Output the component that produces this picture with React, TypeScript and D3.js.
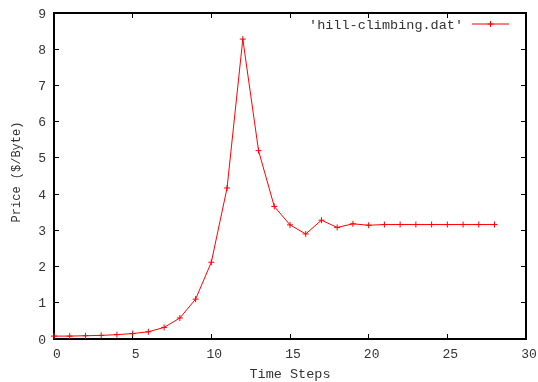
import React, { useRef, useEffect } from 'react';
import * as d3 from 'd3';

// Time step index and price values
const steps = [0, 1, 2, 3, 4, 5, 6, 7, 8, 9, 10, 11, 12, 13, 14, 15, 16, 17, 18, 19, 20, 21, 22, 23, 24, 25, 26, 27, 28];
const prices = [0.08, 0.08, 0.09, 0.1, 0.12, 0.15, 0.2, 0.32, 0.58, 1.1, 2.12, 4.17, 8.28, 5.2, 3.66, 3.15, 2.9, 3.28, 3.08, 3.18, 3.14, 3.16, 3.16, 3.16, 3.16, 3.16, 3.16, 3.16, 3.16];
const xTicks = [0, 5, 10, 15, 20, 25, 30];
const yTicks = [0, 1, 2, 3, 4, 5, 6, 7, 8, 9];
const seriesName = "'hill-climbing.dat'";

const FONT = '"Liberation Mono", "DejaVu Sans Mono", monospace';
const TXT = '#333';

function Chart() {
  const svgRef = useRef<SVGSVGElement>(null);

  useEffect(() => {
    const width = 538;
    const height = 382;
    const margin = { top: 13, right: 12, bottom: 43, left: 54 };
    const innerWidth = width - margin.left - margin.right;
    const innerHeight = height - margin.top - margin.bottom;

    const svg = d3.select(svgRef.current);
    svg.selectAll('*').remove();
    svg.attr('width', width).attr('height', height);

    const g = svg.append('g').attr('transform', `translate(${margin.left},${margin.top})`);

    const x = d3.scaleLinear().domain([0, 30]).range([0, innerWidth]);
    const y = d3.scaleLinear().domain([0, 9]).range([innerHeight, 0]);

    const tick = 5;

    // ticks (inside, mirrored like gnuplot)
    xTicks.forEach(t => {
      g.append('line').attr('x1', x(t)).attr('x2', x(t)).attr('y1', innerHeight).attr('y2', innerHeight - tick)
        .attr('stroke', '#000').attr('stroke-width', 1).attr('shape-rendering', 'crispEdges');
      g.append('line').attr('x1', x(t)).attr('x2', x(t)).attr('y1', 0).attr('y2', tick)
        .attr('stroke', '#000').attr('stroke-width', 1).attr('shape-rendering', 'crispEdges');
      g.append('text').attr('x', x(t) + 3).attr('y', innerHeight + 19)
        .attr('text-anchor', 'middle').attr('font-family', FONT).attr('font-size', 13).attr('fill', TXT)
        .text(t);
    });
    yTicks.forEach(t => {
      g.append('line').attr('x1', 0).attr('x2', tick).attr('y1', y(t)).attr('y2', y(t))
        .attr('stroke', '#000').attr('stroke-width', 1).attr('shape-rendering', 'crispEdges');
      g.append('line').attr('x1', innerWidth).attr('x2', innerWidth - tick).attr('y1', y(t)).attr('y2', y(t))
        .attr('stroke', '#000').attr('stroke-width', 1).attr('shape-rendering', 'crispEdges');
      g.append('text').attr('x', -8).attr('y', y(t)).attr('dy', '0.35em')
        .attr('text-anchor', 'end').attr('font-family', FONT).attr('font-size', 13).attr('fill', TXT)
        .text(t);
    });

    // border
    g.append('rect').attr('x', 0).attr('y', 0).attr('width', innerWidth).attr('height', innerHeight)
      .attr('fill', 'none').attr('stroke', '#000').attr('stroke-width', 1.2).attr('shape-rendering', 'crispEdges');

    // series
    const pts = steps.map((s, i) => [s, prices[i]] as [number, number]);
    const line = d3.line<[number, number]>().x(d => x(d[0])).y(d => y(d[1]));
    g.append('path').datum(pts).attr('d', line).attr('fill', 'none').attr('stroke', '#ff0000').attr('stroke-width', 1);

    const m = 3;
    const marks = g.append('g').attr('stroke', '#ff0000').attr('stroke-width', 1);
    pts.forEach(d => {
      const cx = x(d[0]);
      const cy = y(d[1]);
      marks.append('line').attr('x1', cx - m).attr('x2', cx + m).attr('y1', cy).attr('y2', cy);
      marks.append('line').attr('x1', cx).attr('x2', cx).attr('y1', cy - m).attr('y2', cy + m);
    });

    // legend
    const lx1 = 418;
    const lx2 = 455;
    const ly = 11;
    g.append('text').attr('x', lx1 - 9).attr('y', ly).attr('dy', '0.35em')
      .attr('text-anchor', 'end').attr('font-family', FONT).attr('font-size', 13.5).attr('fill', TXT)
      .text(seriesName);
    g.append('line').attr('x1', lx1).attr('x2', lx2).attr('y1', ly).attr('y2', ly)
      .attr('stroke', '#ff0000').attr('stroke-width', 1);
    const lm = (lx1 + lx2) / 2;
    g.append('line').attr('x1', lm - m).attr('x2', lm + m).attr('y1', ly).attr('y2', ly).attr('stroke', '#ff0000');
    g.append('line').attr('x1', lm).attr('x2', lm).attr('y1', ly - m).attr('y2', ly + m).attr('stroke', '#ff0000');

    // axis labels
    svg.append('text').attr('x', margin.left + innerWidth / 2).attr('y', 378)
      .attr('text-anchor', 'middle').attr('font-family', FONT).attr('font-size', 13.5).attr('fill', TXT)
      .text('Time Steps');
    svg.append('text').attr('transform', `translate(20,${margin.top + innerHeight / 2 - 4}) rotate(-90)`)
      .attr('text-anchor', 'middle').attr('font-family', FONT).attr('font-size', 12).attr('fill', TXT)
      .text('Price ($/Byte)');
  }, []);

  return <svg ref={svgRef} style={{ display: 'block' }}></svg>;
}

export default function App() {
  return (
    <div style={{ position: 'fixed', left: 0, top: 0 }}>
      <Chart />
    </div>
  );
}
